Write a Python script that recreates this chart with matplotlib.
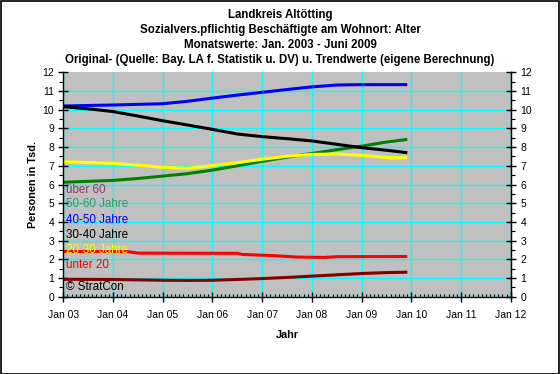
import matplotlib
matplotlib.use("Agg")
import matplotlib.pyplot as plt
from matplotlib.ticker import MultipleLocator

plt.rcParams['font.family'] = ['Liberation Sans', 'DejaVu Sans']

# --- data (thousands of persons), x in fractional years ---
x_ueber60 = [2003.0, 2004.0, 2004.5, 2005.0, 2005.5, 2006.0, 2006.5, 2007.0, 2007.5, 2008.0, 2008.5, 2009.0, 2009.5, 2009.92]
y_ueber60 = [0.93, 0.92, 0.90, 0.88, 0.87, 0.88, 0.92, 0.97, 1.03, 1.10, 1.17, 1.24, 1.29, 1.31]

x_5060 = [2003.0, 2004.0, 2004.5, 2005.0, 2005.5, 2006.0, 2006.5, 2007.0, 2007.5, 2008.0, 2008.5, 2009.0, 2009.5, 2009.92]
y_5060 = [6.12, 6.22, 6.32, 6.45, 6.58, 6.77, 7.00, 7.24, 7.46, 7.66, 7.86, 8.05, 8.27, 8.41]

x_4050 = [2003.0, 2004.0, 2005.0, 2005.5, 2006.0, 2006.5, 2007.0, 2007.5, 2008.0, 2008.5, 2009.0, 2009.92]
y_4050 = [10.20, 10.25, 10.32, 10.45, 10.62, 10.78, 10.93, 11.08, 11.22, 11.32, 11.34, 11.34]

x_3040 = [2003.0, 2003.6, 2004.0, 2004.5, 2005.0, 2005.5, 2006.0, 2006.5, 2007.0, 2007.5, 2008.0, 2008.5, 2009.0, 2009.57, 2009.92]
y_3040 = [10.16, 10.02, 9.90, 9.66, 9.41, 9.18, 8.95, 8.70, 8.56, 8.45, 8.33, 8.15, 7.97, 7.81, 7.70]

x_2030 = [2003.0, 2004.0, 2004.5, 2005.0, 2005.5, 2006.0, 2006.5, 2007.0, 2007.5, 2008.0, 2008.5, 2009.0, 2009.57, 2009.92]
y_2030 = [7.22, 7.13, 7.03, 6.92, 6.87, 7.01, 7.17, 7.35, 7.51, 7.61, 7.63, 7.56, 7.43, 7.43]

x_unter20 = [2003.0, 2004.3, 2004.5, 2006.5, 2006.6, 2007.2, 2007.7, 2008.25, 2008.5, 2009.92]
y_unter20 = [2.42, 2.41, 2.33, 2.32, 2.26, 2.20, 2.12, 2.10, 2.14, 2.15]

year_ticks = [2003, 2004, 2005, 2006, 2007, 2008, 2009, 2010, 2011, 2012]
year_labels = ["Jan 03", "Jan 04", "Jan 05", "Jan 06", "Jan 07", "Jan 08",
               "Jan 09", "Jan 10", "Jan 11", "Jan 12"]

title_lines = ["Landkreis Altötting",
               "Sozialvers.pflichtig Beschäftigte am Wohnort: Alter",
               "Monatswerte: Jan. 2003 - Juni 2009",
               "Original- (Quelle: Bay. LA f. Statistik u. DV) u. Trendwerte (eigene Berechnung)"]

labels = ["über 60", "50-60 Jahre", "40-50 Jahre", "30-40 Jahre", "20-30 Jahre", "unter 20", "© StratCon"]
label_y = [5.7, 4.98, 4.12, 3.32, 2.5, 1.7, 0.5]
label_colors = ["#993366", "#339966", "#0000ff", "#000000", "#ffff00", "#ff0000", "#000000"]

# --- figure ---
fig = plt.figure(figsize=(5.6, 3.74), dpi=100, facecolor="white")
ax = fig.add_axes([63.3/560, 1 - 296.7/374, (510.7 - 63.3)/560, (296.7 - 72.3)/374])
ax.set_facecolor("#c0c0c0")

fig.patches.append(plt.Rectangle((0.001, 0.001), 0.997, 0.997, transform=fig.transFigure,
                                 fill=False, edgecolor="black", linewidth=1.2))

ax.set_xlim(2003, 2012)
ax.set_ylim(0, 12)

ax.set_yticks(range(0, 13))
ax.grid(True, which="major", color="#00ffff", linewidth=1.0)
ax.set_axisbelow(True)

lw = 2.2
ax.plot(x_ueber60, y_ueber60, color="#800000", lw=lw, solid_capstyle="butt")
ax.plot(x_5060, y_5060, color="#008000", lw=lw, solid_capstyle="butt")
ax.plot(x_4050, y_4050, color="#0000ff", lw=lw, solid_capstyle="butt")
ax.plot(x_3040, y_3040, color="#000000", lw=lw, solid_capstyle="butt")
ax.plot(x_2030, y_2030, color="#ffff00", lw=lw, solid_capstyle="butt")
ax.plot(x_unter20, y_unter20, color="#ff0000", lw=lw, solid_capstyle="butt")

for t, yy, c in zip(labels, label_y, label_colors):
    ax.text(2003.05, yy, t, color=c, fontsize=8.4, va="center", ha="left")

ax.set_xticks(year_ticks)
ax.set_xticklabels(year_labels)
ax.xaxis.set_minor_locator(MultipleLocator(1/12))
ax.yaxis.set_minor_locator(MultipleLocator(0.5))
ax.tick_params(axis="both", which="major", labelsize=7.5, direction="inout", length=7, width=1, colors="black")
ax.tick_params(axis="x", which="minor", direction="in", length=2.5, width=0.8)
ax.tick_params(axis="y", which="minor", direction="out", length=3, width=0.8)
ax.tick_params(axis="x", which="major", pad=6)
ax.tick_params(axis="y", which="major", pad=3)

# no cyan gridline along the top edge
ax.get_ygridlines()[-1].set_visible(False)

ax.spines["top"].set_visible(False)
for s in ("left", "bottom", "right"):
    ax.spines[s].set_color("black")
    ax.spines[s].set_linewidth(1.0)

ax2 = ax.twinx()
ax2.set_ylim(0, 12)
ax2.yaxis.set_major_locator(MultipleLocator(1))
ax2.yaxis.set_minor_locator(MultipleLocator(0.5))
ax2.tick_params(axis="y", which="major", labelsize=7.5, direction="inout", length=7, width=1)
ax2.tick_params(axis="y", which="minor", direction="out", length=3, width=0.8)
ax2.spines["top"].set_visible(False)
ax2.spines["left"].set_visible(False)
ax2.spines["bottom"].set_visible(False)

ax.set_xlabel("Jahr", fontsize=7.8, fontweight="bold", labelpad=7)
ax.set_ylabel("Personen in Tsd.", fontsize=7.8, fontweight="bold", labelpad=3)

ys = [15, 30, 44.5, 60]
for t, yy in zip(title_lines, ys):
    fig.text(0.5, 1 - yy/374, t, ha="center", va="center", fontsize=8.3, fontweight="bold")

fig.savefig("out.png", dpi=100, facecolor="white")
